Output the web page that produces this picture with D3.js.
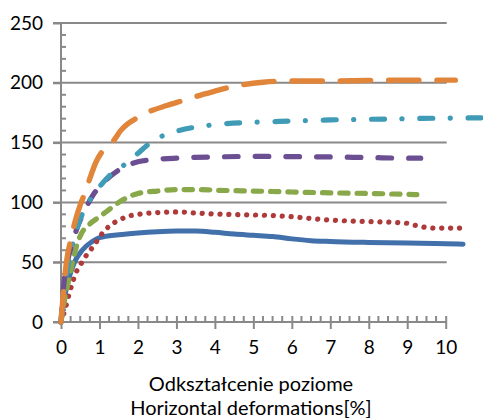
<!DOCTYPE html>
<html><head><meta charset="utf-8">
<script src="https://cdn.jsdelivr.net/npm/d3@7/dist/d3.min.js"></script>
<style>html,body{margin:0;padding:0;background:#fff;}svg{display:block;}</style>
</head><body>
<svg id="c" width="483" height="418"></svg>
<script>
const xTicks = [0,1,2,3,4,5,6,7,8,9,10];
const yTicks = [0,50,100,150,200,250];
const titleLines = ["Odkształcenie poziome", "Horizontal deformations[%]"];

const blue = [[0,0],[0.1,22],[0.2,36],[0.35,50],[0.55,60],[0.8,67],[1.0,70.5],[1.5,73],[2,74.5],[2.5,75.5],[3,76],[3.5,76],[4,75],[4.5,73.5],[5,72.5],[5.5,71.5],[6,69.5],[6.5,68],[7,67.3],[8,66.5],[9,66],[10,65.5],[10.45,65]];
const red = [[0,0],[0.1,10],[0.2,22],[0.3,33],[0.4,42],[0.5,47.5],[0.62,54],[0.75,59.5],[0.9,66],[1.0,71],[1.25,80],[1.5,85],[1.75,88.5],[2,90],[2.5,91.5],[3,92],[3.5,91.2],[4,90.3],[5,89.5],[5.5,89],[6,88],[6.5,86.5],[7,85.2],[7.5,84.5],[8,84],[8.5,83.5],[9,82.5],[9.25,80.5],[9.5,79],[9.75,78.5],[10,78.5],[10.4,78.5]];
const green = [[0,0],[0.1,20],[0.2,35],[0.3,50],[0.4,63],[0.5,72],[0.75,82],[1,88],[1.25,94],[1.5,100],[1.75,104.5],[2,107.5],[2.5,109.5],[3,110.7],[3.5,110.7],[4,110.2],[5,109.5],[6,108.7],[7,108],[8,107.5],[9,106.7],[9.25,106.5]];
const purple = [[0,0],[0.1,40],[0.2,55],[0.3,66],[0.4,77],[0.6,92],[0.85,107],[1,113],[1.25,121],[1.5,127],[2,134],[2.5,136],[3,137],[4,138],[5,138.5],[6,138.3],[7,138],[8,137.5],[9,137],[9.35,137]];
const cyan = [[0,0],[0.1,30],[0.2,50],[0.3,65],[0.5,86],[0.75,102],[1,113],[1.25,122],[1.5,128],[1.75,134],[2,141],[2.25,148],[2.5,153.5],[2.75,157],[3,159.5],[3.5,163],[4,165],[5,167],[6,168],[7,169],[8,169.5],[9,170],[10,170.5],[11,170.7]];
const orange = [[0,0],[0.05,20],[0.1,38],[0.15,52],[0.25,68],[0.35,82],[0.5,98],[0.6,106],[0.75,120],[0.9,133],[1.06,142],[1.25,147.5],[1.4,153],[1.55,160],[1.75,166],[2,171],[2.3,176],[2.75,181],[3.15,185],[3.5,188.5],[4,193],[4.35,196],[4.75,198.5],[5.25,200.5],[5.6,201.3],[6,201.5],[7,201.5],[8,202],[9,202.2],[10,202.2],[10.25,202.2]];

const series = [
  {data: blue,   color: "#4170AA", dash: null,               w: 5},
  {data: red,    color: "#AD3B3B", dash: "0.1 8.8",          w: 5.2},
  {data: green,  color: "#88A84A", dash: "8.3 9",            w: 5.2},
  {data: purple, color: "#6B4F92", dash: "13.6 17.1",        w: 5.2},
  {data: cyan,   color: "#3F9BB6", dash: "13 17.4 0.1 17.8", w: 5.2},
  {data: orange, color: "#E0853A", dash: "30.3 18",          w: 5.4}
];

const svg = d3.select("#c");
const x = d3.scaleLinear().domain([0,10]).range([61,445.7]);
const y = d3.scaleLinear().domain([0,250]).range([322,23]);
const grey = "#898989";
const font = "Lato, 'Open Sans', sans-serif";

// gridlines
svg.append("g").selectAll("line").data(yTicks.filter(d=>d>0)).join("line")
  .attr("x1", 53).attr("x2", x(10)+1).attr("y1", d=>y(d)).attr("y2", d=>y(d))
  .attr("stroke", grey).attr("stroke-width", 2);

// y axis
const yAxis = d3.axisLeft(y).tickValues(yTicks).tickSize(8).tickPadding(10).tickFormat(d3.format("d"));
const gy = svg.append("g").attr("transform", `translate(${x(0)},0)`).call(yAxis);
gy.select(".domain").attr("stroke", grey).attr("stroke-width", 2).attr("d", `M0,${y(0)}V${y(250)}`);
gy.selectAll(".tick line").attr("stroke", grey).attr("stroke-width", 2);
gy.selectAll(".tick text").attr("font-family", font).attr("font-size", 19).attr("fill", "#000");
const yMinor = d3.range(0, 251, 10).filter(v => v % 50 !== 0);
svg.append("g").selectAll("line").data(yMinor).join("line")
  .attr("x1", x(0)).attr("x2", x(0)+5).attr("y1", d=>y(d)).attr("y2", d=>y(d))
  .attr("stroke", grey).attr("stroke-width", 2);

// x axis
const xAxis = d3.axisBottom(x).tickValues(xTicks).tickSize(7).tickPadding(12).tickFormat(d3.format("d"));
const gx = svg.append("g").attr("transform", `translate(0,${y(0)})`).call(xAxis);
gx.select(".domain").attr("stroke", grey).attr("stroke-width", 2).attr("d", `M53,0H${x(10)+1}`);
gx.selectAll(".tick line").attr("stroke", grey).attr("stroke-width", 2).attr("y1", -6);
gx.selectAll(".tick text").attr("font-family", font).attr("font-size", 19).attr("fill", "#000");
const xMinor = d3.range(0, 10.01, 0.25).filter(v => Math.abs(v - Math.round(v)) > 0.01);
svg.append("g").selectAll("line").data(xMinor).join("line")
  .attr("x1", d=>x(d)).attr("x2", d=>x(d)).attr("y1", y(0)).attr("y2", y(0)-6)
  .attr("stroke", grey).attr("stroke-width", 2);

// lines
const line = d3.line().x(d=>x(d[0])).y(d=>y(d[1])).curve(d3.curveMonotoneX);
svg.append("g").selectAll("path").data(series).join("path")
  .attr("d", d=>line(d.data)).attr("fill", "none")
  .attr("stroke", d=>d.color).attr("stroke-width", d=>d.w)
  .attr("stroke-linecap", "round").attr("stroke-linejoin", "round")
  .attr("stroke-dasharray", d=>d.dash);

// title
svg.append("g").selectAll("text").data(titleLines).join("text")
  .attr("x", 251).attr("y", (d,i)=> 391 + i*24)
  .attr("text-anchor", "middle").attr("font-family", font).attr("font-size", 20).attr("fill", "#000")
  .text(d=>d);
</script>
</body></html>
